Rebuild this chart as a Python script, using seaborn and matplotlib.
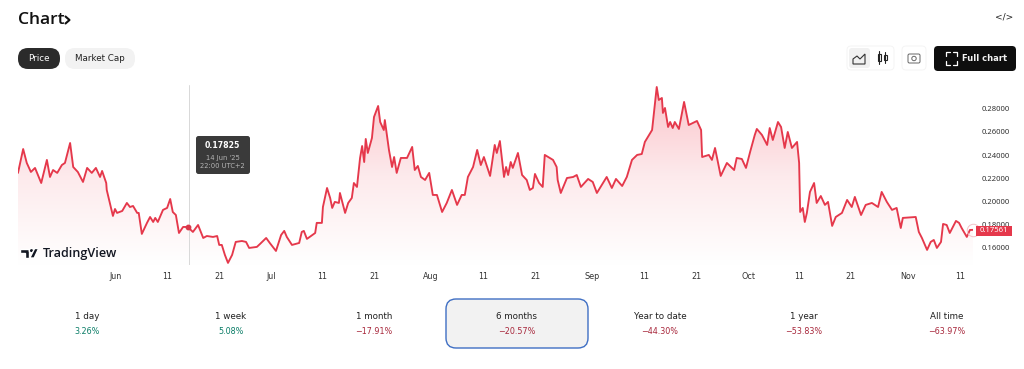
import numpy as np
import pandas as pd
import seaborn as sns
import matplotlib
matplotlib.use("Agg")
import matplotlib.pyplot as plt
from matplotlib.patches import FancyBboxPatch, Rectangle, Polygon, Circle
from matplotlib.colors import LinearSegmentedColormap

days = [0.0,1.0,1.7,2.5,3.3,4.5,5.6,6.2,6.8,7.6,8.5,9.1,10.1,10.7,11.6,12.6,13.4,14.3,15.1,15.9,16.3,17.1,17.2,17.8,18.4,18.8,19.2,20.2,21.1,21.7,22.3,23.1,23.4,24.0,25.0,25.6,26.2,26.6,27.1,28.1,28.9,29.5,30.0,30.6,31.2,32.0,32.9,33.9,34.9,35.9,36.6,37.8,38.6,39.0,39.5,40.1,40.7,41.5,42.2,43.4,44.2,44.8,46.3,46.9,48.1,48.8,50.0,51.0,51.6,52.1,53.1,54.5,55.0,55.4,56.0,57.6,57.9,58.9,59.1,59.9,60.5,60.9,61.4,62.2,62.4,63.4,64.0,64.7,65.1,65.7,66.3,66.7,67.1,67.4,67.8,68.6,69.0,69.8,70.2,70.9,71.1,71.9,72.5,72.9,73.4,74.2,75.4,76.4,76.9,77.5,78.1,78.9,79.7,80.4,81.2,82.2,83.1,84.1,85.1,86.0,86.6,87.2,88.2,89.0,89.7,90.3,91.5,92.4,92.8,93.4,94.2,94.6,95.0,95.5,95.9,96.9,97.7,98.6,99.2,99.8,100.2,101.0,101.7,102.1,103.7,104.4,104.6,105.2,106.4,107.6,108.3,109.1,110.5,111.4,112.2,114.1,115.1,115.9,117.1,118.0,119.0,120.0,120.9,121.5,122.9,123.8,124.2,124.8,125.0,125.4,126.0,126.4,126.9,127.3,128.1,128.5,129.1,130.0,131.6,132.4,132.6,133.9,134.5,135.1,136.2,137.4,138.8,139.3,140.3,141.1,141.9,142.8,143.2,144.2,145.2,145.7,146.3,147.3,147.9,148.6,149.2,150.0,151.0,151.4,151.6,152.1,152.5,152.9,153.5,154.3,154.8,155.6,156.4,157.0,157.8,158.5,159.7,160.7,161.6,162.2,163.4,164.3,165.5,166.7,167.4,168.4,169.4,170.3,171.1,171.5,174.0,174.6,175.2,176.2,176.9,177.5,178.1,178.9,179.3,180.0,180.6,181.8,182.4,182.9,183.9,184.5,185.1]
price = [.2247,.2453,.2333,.2255,.2290,.2160,.2359,.2212,.2272,.2247,.2315,.2333,.2505,.2298,.2255,.2169,.2290,.2247,.2290,.2212,.2264,.2160,.2100,.1988,.1876,.1936,.1902,.1919,.1988,.1953,.1962,.1902,.1902,.1721,.1816,.1867,.1824,.1859,.1824,.1928,.1945,.2022,.1910,.1884,.1729,.1781,.1781,.1738,.1798,.1686,.1703,.1695,.1703,.1626,.1626,.1540,.1471,.1540,.1652,.1660,.1652,.1600,.1609,.1634,.1686,.1643,.1574,.1712,.1747,.1695,.1626,.1643,.1738,.1747,.1678,.1729,.1816,.1816,.1953,.2117,.2031,.1945,.1997,.1988,.2074,.1902,.1988,.2031,.2160,.2126,.2376,.2479,.2341,.2540,.2419,.2548,.2729,.2824,.2686,.2617,.2703,.2445,.2298,.2384,.2247,.2376,.2376,.2471,.2272,.2307,.2212,.2186,.2247,.2057,.2057,.1910,.1988,.2100,.1971,.2057,.2057,.2212,.2298,.2445,.2315,.2384,.2221,.2488,.2419,.2522,.2212,.2298,.2229,.2341,.2290,.2419,.2229,.2186,.2100,.2117,.2238,.2160,.2126,.2402,.2359,.2298,.2186,.2074,.2203,.2212,.2229,.2126,.2195,.2169,.2074,.2212,.2117,.2195,.2134,.2212,.2359,.2402,.2410,.2514,.2617,.2988,.2876,.2893,.2764,.2807,.2643,.2686,.2634,.2686,.2626,.2721,.2859,.2660,.2695,.2617,.2384,.2402,.2359,.2462,.2221,.2333,.2272,.2376,.2367,.2290,.2428,.2574,.2626,.2574,.2488,.2634,.2531,.2686,.2643,.2462,.2600,.2462,.2514,.2333,.1910,.1945,.1824,.1902,.2083,.2160,.1988,.2048,.1971,.1997,.1790,.1867,.1902,.2014,.1953,.2040,.1884,.1971,.1988,.1953,.2083,.1997,.1928,.1945,.1772,.1859,.1867,.1738,.1686,.1583,.1652,.1669,.1600,.1652,.1807,.1798,.1729,.1833,.1816,.1772,.1695,.1755,.1756]

x_tick_days = [19,29,39,49,59,69,80,90.1,100.2,111.2,121.3,131.4,141.5,151.5,161.4,172.5,182.6]
x_tick_labels = ["Jun","11","21","Jul","11","21","Aug","11","21","Sep","11","21","Oct","11","21","Nov","11"]
y_ticks = [0.16,0.18,0.20,0.22,0.24,0.26,0.28]
y_tick_labels = ["0.16000","0.18000","0.20000","0.22000","0.24000","0.26000","0.28000"]
periods = ["1 day","1 week","1 month","6 months","Year to date","1 year","All time"]
changes = ["3.26%","5.08%","\u221217.91%","\u221220.57%","\u221244.30%","\u221253.83%","\u221263.97%"]

W, H = 1024, 369
RED = "#e5384b"
sns.set_theme(style="white")
plt.rcParams['font.family'] = ['DejaVu Sans']
fig = plt.figure(figsize=(W/100, H/100), dpi=100, facecolor="white")

# chart axes: pixel box x 18..973, y 85..265
L, R, T, B = 18, 973, 85, 265
ax = fig.add_axes([L/W, 1-B/H, (R-L)/W, (B-T)/H])
df = pd.DataFrame({"day": days, "price": price})
ax.set_xlim(0, 185.1)
ax.set_ylim(0.1453, 0.3005)
sns.lineplot(data=df, x="day", y="price", ax=ax, color=RED, linewidth=1.35, zorder=3)

cmap = LinearSegmentedColormap.from_list("f", ["#fbc3c9", "#fdeaec", "#ffffff"])
grad = np.linspace(0, 1, 256).reshape(-1, 1)
im = ax.imshow(grad, extent=[0, 185.1, 0.1453, 0.2988], origin="upper", aspect="auto", cmap=cmap, zorder=1)
poly = Polygon(list(zip(days, price)) + [(185.1, 0.1453), (0, 0.1453)], closed=True, transform=ax.transData, fc="none", ec="none")
ax.add_patch(poly)
im.set_clip_path(poly)
ax.set_xlim(0, 185.1)
ax.set_ylim(0.1453, 0.3005)

ax.axvline(33.1, color="#d8d8d8", lw=0.7, zorder=2)
ax.plot([32.9], [0.1781], "o", color="#d9384a", ms=3.2, zorder=4)
ax.plot([185.1], [0.1756], "o", mfc="none", mec="#f3c3c8", ms=9, mew=0.7, zorder=4, clip_on=False)

ax.set_xlabel(""); ax.set_ylabel("")
ax.set_xticks(x_tick_days, x_tick_labels)
ax.tick_params(axis="x", length=0, pad=5, labelsize=5.8, labelcolor="#333333")
ax.yaxis.tick_right()
ax.set_yticks(y_ticks, y_tick_labels, ha="left", family="Noto Sans")
ax.tick_params(axis="y", length=0, pad=6.5, labelsize=5.5, labelcolor="#333333")
for s in ax.spines.values():
    s.set_visible(False)
ax.patch.set_alpha(0)

# page furniture in pixel coordinates
ui = fig.add_axes([0, 0, 1, 1], zorder=5)
ui.set_xlim(0, W); ui.set_ylim(H, 0); ui.axis("off"); ui.patch.set_alpha(0)

def box(x0, y0, x1, y1, r, fc, ec="none", lw=0):
    ui.add_patch(FancyBboxPatch((x0+r, y0+r), x1-x0-2*r, y1-y0-2*r, boxstyle=f"round,pad={r},rounding_size={r}", fc=fc, ec=ec, lw=lw))

ui.text(18, 24, "Chart", fontsize=12.6, family="Open Sans", weight="semibold", color="#111111", va="baseline")
ui.plot([65.5, 69.5, 65.5], [16.5, 20, 23.5], color="#111111", lw=1.5)
ui.text(1004, 17, "</>", fontsize=6.5, color="#222222", ha="center", va="center")

box(18, 48, 60, 69, 10, "#2b2b2b")
ui.text(39, 58.5, "Price", fontsize=6.3, color="white", ha="center", va="center")
box(65, 48, 135, 69, 10, "#f2f2f2")
ui.text(100, 58.5, "Market Cap", fontsize=6.3, color="#222222", ha="center", va="center")

# chart type and camera buttons
box(847, 46, 894, 70, 4, "white", "#f3f3f3", 0.6)
box(849, 48, 870, 68, 3, "#f1f1f1")
ui.add_patch(Polygon([(853, 64), (853, 59), (857, 56), (860, 59), (865, 54), (865, 64)], closed=True, fc="none", ec="#333333", lw=0.8))
ui.add_patch(Rectangle((878, 54), 2.6, 7, fc="none", ec="#222222", lw=0.8))
ui.add_patch(Rectangle((884, 55), 2.6, 5, fc="none", ec="#222222", lw=0.8))
ui.plot([879.3, 879.3], [51, 64], color="#222222", lw=0.8)
ui.plot([885.3, 885.3], [52, 63], color="#222222", lw=0.8)
box(902, 46, 926, 70, 4, "white", "#f3f3f3", 0.6)
box(908, 54, 920, 63, 1.5, "white", "#666666", 0.7)
ui.add_patch(Circle((914, 58.5), 2.2, fc="none", ec="#666666", lw=0.7))

box(934, 46, 1016, 71, 4, "#0e0e0e")
for xs, ys in [([946, 946, 950], [56, 52, 52]), ([953, 957, 957], [52, 52, 56]), ([946, 946, 950], [61, 65, 65]), ([953, 957, 957], [65, 65, 61])]:
    ui.plot(xs, ys, color="white", lw=0.9)
ui.text(985, 58.5, "Full chart", fontsize=6.0, weight="bold", color="#f2f2f2", ha="center", va="center")

# tooltip
box(196, 136, 250, 174, 2.5, "#3a3a3a")
ui.text(222.5, 145.5, "0.17825", fontsize=5.6, weight="bold", color="white", ha="center", va="center")
ui.text(222.5, 158, "14 Jun '25", fontsize=4.9, color="#b5b5b5", ha="center", va="center")
ui.text(222.5, 166.5, "22:00 UTC+2", fontsize=4.9, color="#b5b5b5", ha="center", va="center")

# last price tag
ui.add_patch(Rectangle((976, 225.5), 36, 10.5, fc=RED, ec="none"))
ui.text(994, 230.8, "0.17561", fontsize=5.5, family="Noto Sans", color="white", ha="center", va="center")

# TradingView logo
ui.add_patch(Polygon([(19.5, 248.5), (29, 248.5), (29, 258), (24.5, 258), (24.5, 253), (19.5, 253)], fc="#131722"))
ui.add_patch(Circle((31.5, 250.6), 2.2, fc="#131722"))
ui.add_patch(Polygon([(34.6, 248.5), (38.6, 248.5), (34.2, 258), (29.8, 258)], fc="#131722"))
ui.text(43, 253.5, "TradingView", fontsize=9.1, family="Open Sans", weight="semibold", color="#131722", va="center")

# period row
box(446, 299, 588, 348, 10, "#f2f2f2", "#3f6fc4", 1.0)
centers = [87, 231, 374, 517, 660, 804, 947]
for c, p, v in zip(centers, periods, changes):
    col = "#0b7d67" if not v.startswith("\u2212") else "#a8283c"
    ui.text(c, 316.5, p, fontsize=6.3, color="#222222", ha="center", va="center")
    ui.text(c, 331.5, v, fontsize=5.8, color=col, ha="center", va="center")

fig.savefig("out.png", dpi=100, facecolor="white")
